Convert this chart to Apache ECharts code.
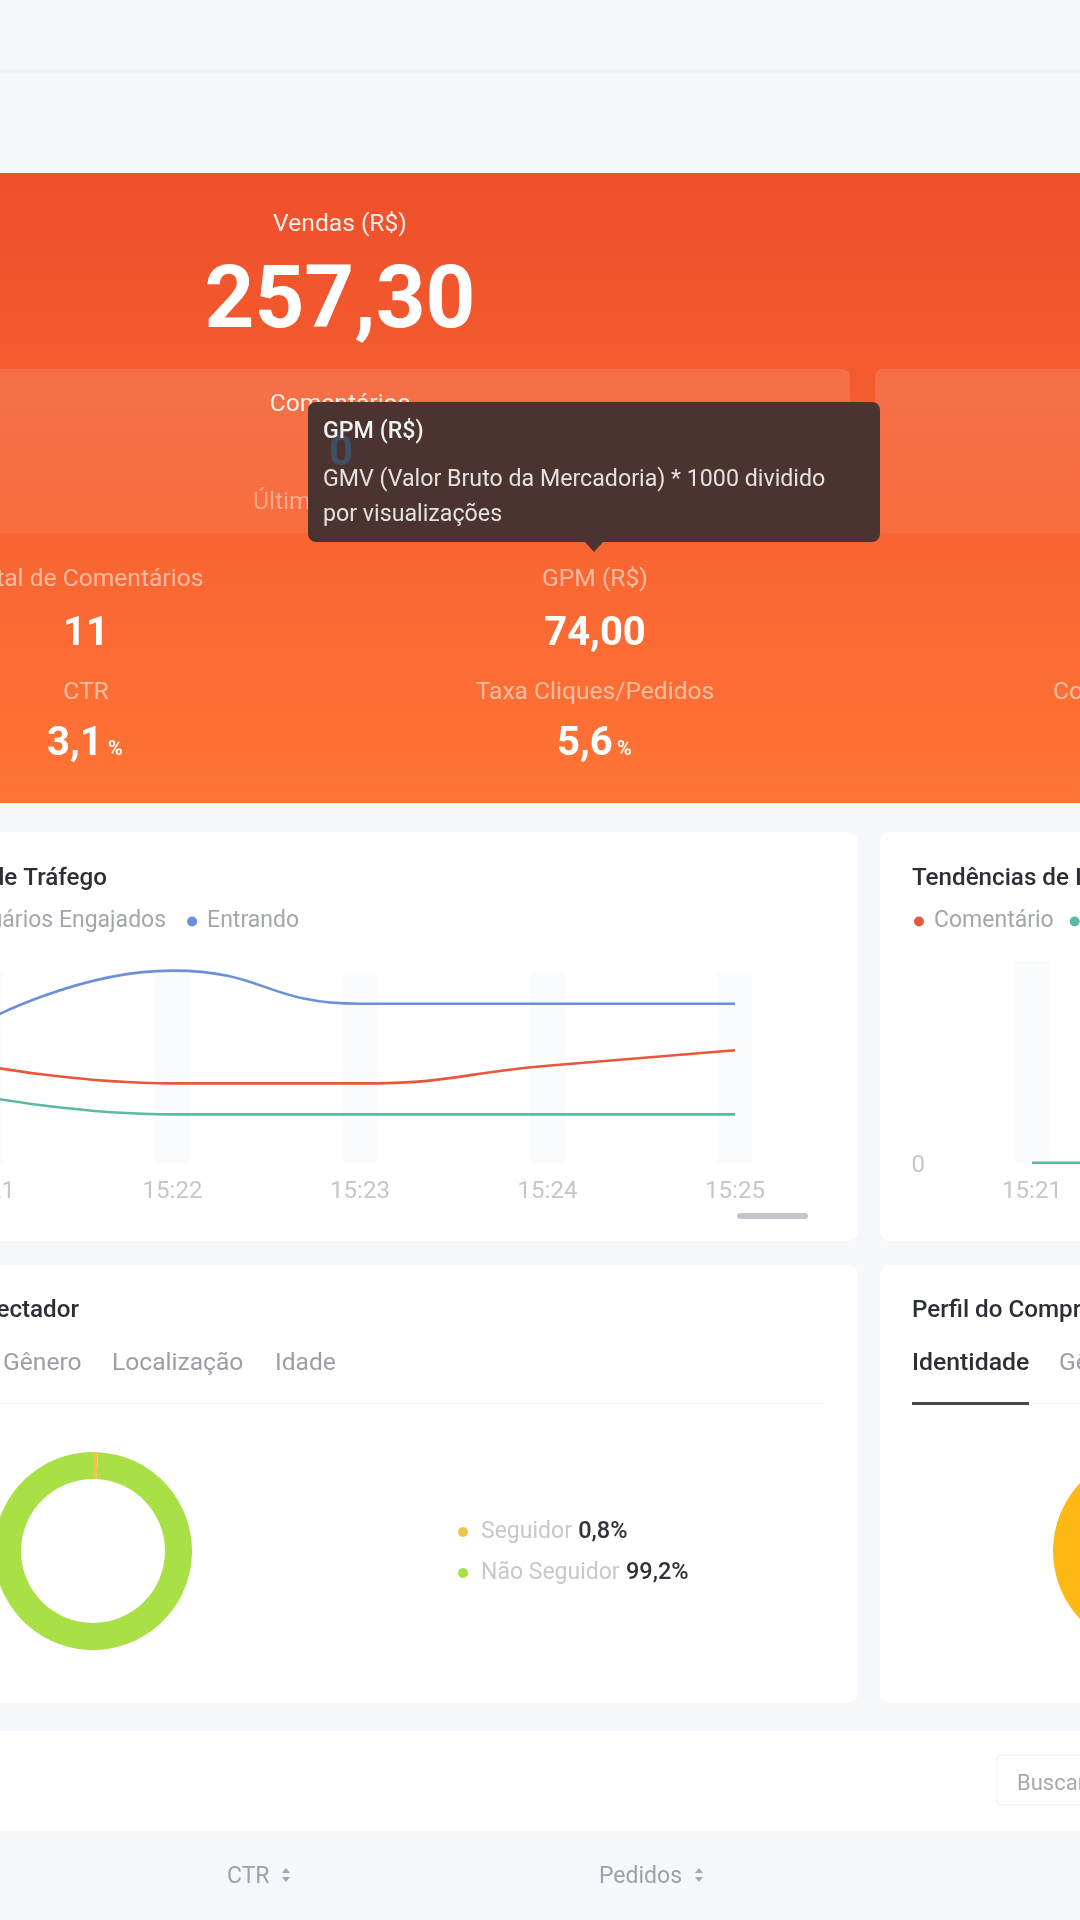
<!DOCTYPE html>
<html><head><meta charset="utf-8">
<style>html,body{margin:0;padding:0;background:#f5f7fb;overflow:hidden}#c{width:1080px;height:1920px;filter:blur(0.5px)}</style>
<script src="https://cdn.jsdelivr.net/npm/echarts@6/dist/echarts.min.js"></script>
</head><body><div id="c"></div>
<script>
const minutes = ['15:21','15:22','15:23','15:24','15:25'];
const viewers = [44,36,36,44,51];
const engaged = [30,22,22,22,22];
const entering = [64,87,72,72,72];
const bandTraffic = [86,86,86,86,86];
const comments = [0,0,0,0,0];
const likes = [0,0,0,0,0];
const bandInteract = [1,1,1,1,1];
const followerNames = ['Seguidor','Não Seguidor'];
const followerShares = [0.8,99.2];
const buyerNames = ['Seguidor'];
const buyerShares = [100];

const F='Roboto, sans-serif';
const chart=echarts.init(document.getElementById('c'),null,{renderer:'canvas',width:1080,height:1920});
let zi=0;
const rect=(x,y,w,h,fill,r=0,extra={})=>({type:'rect',z:-1,z2:zi++,shape:{x,y,width:w,height:h,r},style:Object.assign({fill},extra)});
const txt=(text,x,y,size,fill,opt={})=>({type:'text',z:-1,z2:zi++,x,y,style:{text,fill,font:`${opt.weight||'normal'} ${size}px ${F}`,textAlign:opt.align||'left',textVerticalAlign:'middle'}});
const tri=(pts,fill)=>({type:'polygon',z:-1,z2:zi++,shape:{points:pts},style:{fill}});
const sortIcon=(x,y)=>[tri([[x-4,y-2],[x+4,y-2],[x,y-7]],'#a4a8ae'),tri([[x-4,y+2],[x+4,y+2],[x,y+7]],'#a4a8ae')];
const G=(a,b)=>new echarts.graphic.LinearGradient(0,0,0,1,[{offset:0,color:a},{offset:1,color:b}]);

const LAB='rgba(255,255,255,0.55)';
const graphics=[
  rect(0,69,1080,4,'#f1f3f7'),
  rect(0,173,1080,630,G('#ee4f2b','#ff7436')),
  txt('Vendas (R$)',340,225,24.6,'rgba(255,255,255,0.9)',{align:'center'}),
  txt('257,30',340,305,87,'#ffffff',{align:'center',weight:'bold'}),
  rect(-12,369,862,164,G('rgba(255,255,255,0.13)','rgba(255,255,255,0.06)'),8),
  rect(875,369,217,164,G('rgba(255,255,255,0.13)','rgba(255,255,255,0.06)'),8),
  txt('Comentários',340,405,24.6,'rgba(255,255,255,0.9)',{align:'center'}),
  txt('Última Live(s)',253,503,24.6,'rgba(255,255,255,0.4)'),
  rect(308,402,572,140,'#4b3330',8),
  tri([[585,542],[603,542],[594,552]],'#4b3330'),
  txt('0',341,454,42,'#3e5066',{align:'center',weight:'bold'}),
  txt('GPM (R$)',323,432,23.2,'#f2f2f2',{weight:'500'}),
  txt('GMV (Valor Bruto da Mercadoria) * 1000 dividido',323,480,23.2,'#e4e2e1'),
  txt('por visualizações',323,515,23.2,'#e4e2e1'),
  txt('Total de Comentários',86,580,24.6,LAB,{align:'center'}),
  txt('GPM (R$)',595,580,24.6,LAB,{align:'center'}),
  txt('11',86,635,40,'#fff',{align:'center',weight:'bold'}),
  txt('74,00',595,635,40,'#fff',{align:'center',weight:'bold'}),
  txt('CTR',86,693,24.6,LAB,{align:'center'}),
  txt('Taxa Cliques/Pedidos',595,693,24.6,LAB,{align:'center'}),
  txt('Comentários',1053,693,24.6,LAB),
  txt('3,1',47,745,40,'#fff',{weight:'bold'}),
  txt('%',108,750,20,'#fff',{weight:'bold'}),
  txt('5,6',557,745,40,'#fff',{weight:'bold'}),
  txt('%',617,750,20,'#fff',{weight:'bold'}),
  rect(-12,832,870,409,'#ffffff',10),
  rect(880,832,212,409,'#ffffff',10),
  rect(-12,1265,870,438,'#ffffff',10),
  rect(880,1265,212,438,'#ffffff',10),
  rect(0,1731,1080,100,'#ffffff'),
  txt('Tendências de Tráfego',107,879,24.2,'#2b2f36',{align:'right',weight:'500'}),
  txt('Tendências de Interação',912,879,24.2,'#2b2f36',{weight:'500'}),
  rect(737,1213,71,6,'#c3c5ca',3),
  txt('Perfil do Espectador',79,1311,24.2,'#2b2f36',{align:'right',weight:'500'}),
  txt('Gênero',3,1364,24.6,'#9a9ea6'),
  txt('Localização',112,1364,24.6,'#9a9ea6'),
  txt('Idade',275,1364,24.6,'#9a9ea6'),
  rect(0,1403,823,1,'#f1f2f4'),
  txt('Perfil do Comprador',912,1311,24.2,'#2b2f36',{weight:'500'}),
  txt('Identidade',912,1364,24.8,'#2b2f36',{weight:'500'}),
  txt('Gênero',1059,1364,24.6,'#9a9ea6'),
  rect(1029,1403,51,1,'#f1f2f4'),
  rect(912,1402,117,3,'#44474d'),
  rect(997,1755,90,50,'#ffffff',4,{stroke:'#f1f2f4',lineWidth:1}),
  txt('Buscar',1017,1784,22,'#a6a9ae'),
  txt('CTR',227,1877,23,'#9ea2a8'),
  ...sortIcon(286,1875),
  txt('Pedidos',599,1877,23,'#9ea2a8'),
  ...sortIcon(699,1875),
];

const RED='#e8573a',GREEN='#5fb8a5',BLUE='#6b90da';
const xAxisBase=(gi)=>({gridIndex:gi,type:'category',data:minutes,boundaryGap:false,axisLine:{show:false},axisTick:{show:false},
  axisLabel:{interval:0,margin:17,fontSize:24,fontFamily:F,color:'#c3c6cb',showMinLabel:true,showMaxLabel:true,hideOverlap:false},splitLine:{show:false}});
const ln=(name,data,color,gi)=>({type:'line',name,data,xAxisIndex:gi,yAxisIndex:gi,smooth:0.5,symbol:'none',lineStyle:{color,width:2.6},itemStyle:{color},z:3});
const band=(data,gi)=>({type:'bar',name:'faixa'+gi,data,xAxisIndex:gi,yAxisIndex:gi,barWidth:35,clip:false,itemStyle:{color:'#fafbfd'},silent:true,z:1});
const legendBase={icon:'circle',itemWidth:10,itemHeight:10,orient:'horizontal',selectedMode:false,width:900,textStyle:{fontSize:23,fontFamily:F,color:'#a3a6ac',padding:[0,0,0,5]}};

chart.setOption({
  animation:false,
  backgroundColor:'#f5f7fb',
  graphic:{elements:graphics},
  grid:[{left:-15,width:750,top:964,height:199,outerBoundsMode:'none'},{left:1032,width:749,top:961,height:202,outerBoundsMode:'none'}],
  xAxis:[xAxisBase(0),xAxisBase(1)],
  yAxis:[
    {gridIndex:0,type:'value',min:0,max:90,axisLabel:{show:false},axisLine:{show:false},axisTick:{show:false},splitLine:{show:false}},
    {gridIndex:1,type:'value',min:0,max:1,interval:1,axisLabel:{margin:107,formatter:v=>v===0?'{a|0}':'',rich:{a:{fontSize:24,fontFamily:F,color:'#c3c6cb',padding:[6,0,0,0]}}},axisLine:{show:false},axisTick:{show:false},splitLine:{show:false}}
  ],
  legend:[
    Object.assign({},legendBase,{left:-243,top:905,itemGap:21,data:['Espectadores','Usuários Engajados','Entrando']}),
    Object.assign({},legendBase,{left:909,top:905,itemGap:16,data:['Comentário','Curtida']}),
    {icon:'circle',itemWidth:10,itemHeight:10,orient:'vertical',left:453,top:1515,itemGap:17,selectedMode:false,data:followerNames,width:500,
      formatter:n=>`{n|${n}} {v|${String(followerShares[followerNames.indexOf(n)]).replace('.',',')}%}`,
      textStyle:{padding:[0,0,0,8],rich:{n:{fontSize:23,fontFamily:F,color:'#c6c8cd'},v:{fontSize:23.5,fontFamily:F,fontWeight:'500',color:'#2f3238',padding:[0,0,0,3]}}}}
  ],
  series:[
    band(bandTraffic,0),
    ln('Espectadores',viewers,RED,0),
    ln('Usuários Engajados',engaged,GREEN,0),
    ln('Entrando',entering,BLUE,0),
    band(bandInteract,1),
    ln('Comentário',comments,RED,1),
    ln('Curtida',likes,GREEN,1),
    {type:'pie',center:[93,1551],radius:[72,99],startAngle:90,label:{show:false},labelLine:{show:false},silent:true,
      data:followerNames.map((n,i)=>({name:n,value:followerShares[i],itemStyle:{color:i?'#a8e045':'#f0c44a'}}))},
    {type:'pie',center:[1152,1551],radius:[72,99],startAngle:90,label:{show:false},labelLine:{show:false},silent:true,
      data:buyerNames.map((n,i)=>({name:n,value:buyerShares[i],itemStyle:{color:'#fdb813'}}))}
  ]
});
</script></body></html>
